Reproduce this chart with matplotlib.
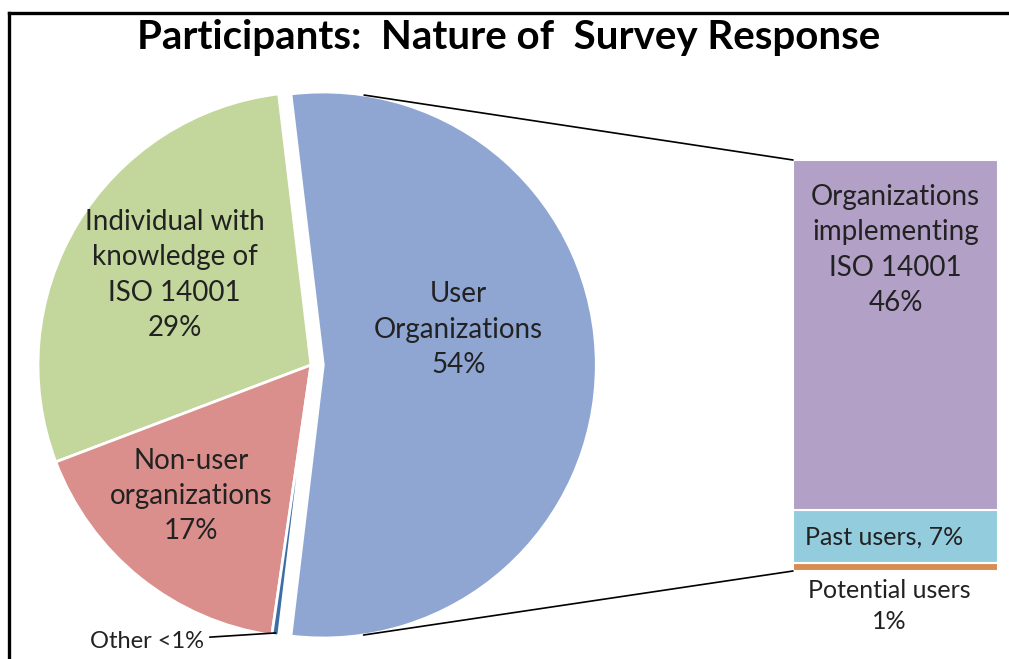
import numpy as np
import matplotlib
matplotlib.use("Agg")
import matplotlib.pyplot as plt
from matplotlib.patches import ConnectionPatch
from matplotlib.lines import Line2D

plt.rcParams['font.family'] = ['Lato', 'DejaVu Sans']

# pie: all participants
pie_labels = ['User\nOrganizations\n54%',
              'Individual with\nknowledge of\nISO 14001\n29%',
              'Non-user\norganizations\n17%',
              'Other <1%']
pie_values = [54, 29, 17, 0.4]
pie_colors = ['#8FA6D3', '#C3D69B', '#DA8F8C', '#3B6EA5']

# bar: breakdown of user organizations (bottom to top)
bar_labels = ['Potential users\n1%', 'Past users, 7%',
              'Organizations\nimplementing\nISO 14001\n46%']
bar_values = [1, 7, 46]
bar_colors = ['#D98C50', '#93CDDD', '#B2A0C7']

W, H = 1009, 659
fig = plt.figure(figsize=(W / 100, H / 100), dpi=100)
fig.patch.set_facecolor('white')

# pie axes, sized so one data unit is R pixels
cx, cy, R = 311, 365, 273
pie_w = 640
ax = fig.add_axes([0, 0, pie_w / W, 1])
txt_color = '#222222'

blue_frac = pie_values[0] / sum(pie_values) * 360
wedges, _ = ax.pie(pie_values, colors=pie_colors, startangle=-blue_frac / 2,
                   counterclock=True, explode=[0.045, 0, 0, 0],
                   wedgeprops=dict(edgecolor='white', linewidth=2))
ax.set_aspect('auto')
ax.set_xlim(-cx / R, (pie_w - cx) / R)
ax.set_ylim(-(H - cy) / R, cy / R)
ax.axis('off')

# labels inside the slices
label_pos = [(0.54, 0.13), (-0.50, 0.33), (-0.44, -0.48)]
for (x, y), lab in zip(label_pos, pie_labels[:3]):
    ax.text(x, y, lab, ha='center', va='center', fontsize=20,
            color=txt_color, linespacing=1.45)

# leader for the tiny slice
w_oth = wedges[3]
ang = np.deg2rad((w_oth.theta1 + w_oth.theta2) / 2)
pt = (w_oth.center[0] + 0.99 * np.cos(ang), w_oth.center[1] + 0.99 * np.sin(ang))
ax.annotate(pie_labels[3], xy=pt, xytext=(-0.60, pt[1] - 0.03),
            ha='center', va='center', fontsize=17, color=txt_color,
            arrowprops=dict(arrowstyle='-', color='black', lw=1.2,
                            shrinkA=2, shrinkB=0))

# stacked bar
bx0, bx1, by0, by1 = 793, 998, 160, 571
axb = fig.add_axes([bx0 / W, (H - by1) / H, (bx1 - bx0) / W, (by1 - by0) / H])
bottom = 0
for v, c in zip(bar_values, bar_colors):
    axb.bar(0.5, v, width=1, bottom=bottom, color=c, edgecolor='white', linewidth=1.5)
    bottom += v
total = sum(bar_values)
axb.set_xlim(0, 1)
axb.set_ylim(0, total)
axb.axis('off')

axb.text(0.5, 42.2, bar_labels[2],
         ha='center', va='center', fontsize=20, color=txt_color, linespacing=1.45)
axb.text(0.06, bar_values[0] + bar_values[1] / 2, bar_labels[1],
         ha='left', va='center', fontsize=18, color=txt_color)
axb.text(0.47, -1.0, bar_labels[0], ha='center', va='top', fontsize=18,
         color=txt_color, linespacing=1.45, clip_on=False)

# series lines: tangents from the bar corners to the user slice
w_user = wedges[0]
ucx, ucy = w_user.center
ur = w_user.r
for corner, sign in [((0, total), 1), ((0, 0), -1)]:
    px, py = ax.transData.inverted().transform(axb.transData.transform(corner))
    dx, dy = px - ucx, py - ucy
    dist = np.hypot(dx, dy)
    t = np.arctan2(dy, dx) + sign * np.arccos(ur / dist)
    tp = (ucx + ur * np.cos(t), ucy + ur * np.sin(t))
    con = ConnectionPatch(xyA=tp, coordsA=ax.transData, xyB=corner,
                          coordsB=axb.transData, color='black', lw=1.2)
    fig.add_artist(con)

fig.text(509 / W, 1 - 37 / H, 'Participants:  Nature of  Survey Response',
         ha='center', va='center', fontsize=29, fontweight='bold', color='black')

# frame, open to the right and bottom
fig.add_artist(Line2D([9 / W, 9 / W], [0, 1 - 13 / H], transform=fig.transFigure,
                      color='black', lw=2.4))
fig.add_artist(Line2D([9 / W, 1], [1 - 13 / H, 1 - 13 / H], transform=fig.transFigure,
                      color='black', lw=2.4))

fig.savefig('out.png', dpi=100)
